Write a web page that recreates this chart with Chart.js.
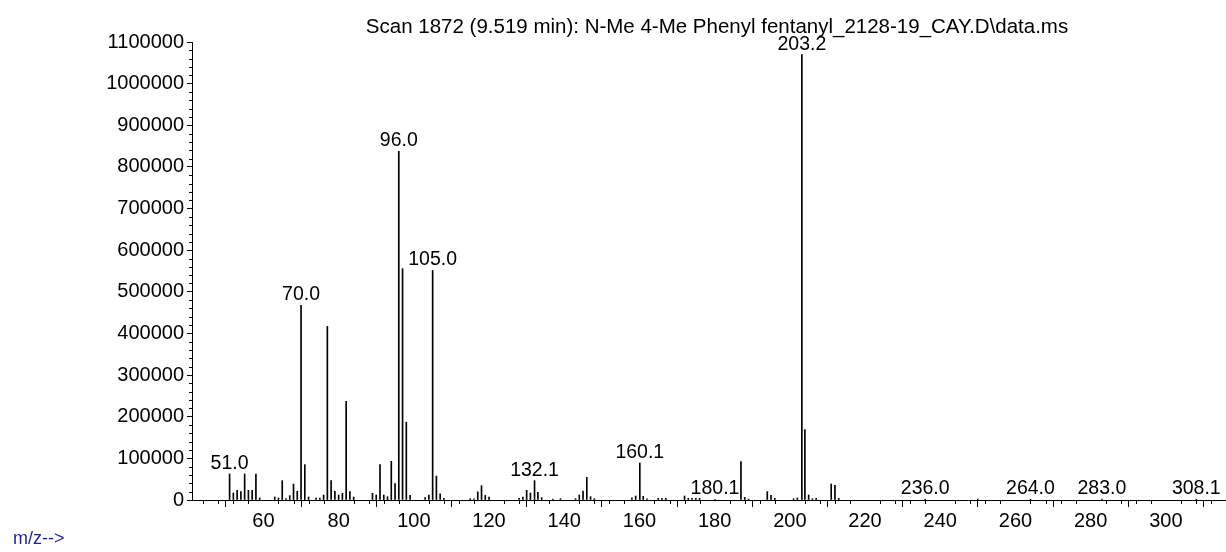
<!DOCTYPE html>
<html>
<head>
<meta charset="utf-8">
<title>Scan 1872</title>
<script src="https://cdn.jsdelivr.net/npm/chart.js@4/dist/chart.umd.min.js"></script>
<style>
  html, body { margin: 0; padding: 0; background: #fff; }
  #wrap { position: relative; width: 1226px; height: 552px; }
  #mz { position: absolute; left: 13px; top: 528px; color: #1f1f9f;
        font: 18px "Liberation Sans", Arial, sans-serif; }
</style>
</head>
<body>
<div id="wrap">
  <canvas id="spectrum" width="1226" height="552"></canvas>
  <div id="mz">m/z--&gt;</div>
</div>
<script>
// spectrum: m/z and abundance
const mzValues = [
  51.0, 52, 53, 54, 55, 56, 57, 58, 59, 63, 64, 65, 66, 67, 68, 69, 70.0, 71, 72, 74, 75, 76, 77, 78, 79, 80,
  81, 82, 83, 84, 89, 90, 91, 92, 93, 94, 95, 96.0, 97, 98, 99, 103, 104, 105.0, 106, 107, 108,
  115, 116, 117, 118, 119, 120, 128, 129, 130, 131, 132.1, 133, 134, 137, 139, 143, 144, 145, 146, 147, 148,
  158, 159, 160.1, 161, 162, 165, 166, 167, 172, 173, 174, 175, 176, 180.1, 187, 188, 189, 194, 195, 196,
  201, 202, 203.2, 204, 205, 206, 207, 211, 212, 213, 236.0, 250, 264.0, 283.0, 308.1
];
const abundance = [
  62500, 16800, 23200, 20000, 62500, 23200, 23200, 62500, 4800, 7200, 4800, 46400, 3200, 10400, 38400, 20800, 467400, 84900, 7200, 4800, 4800, 12000, 417000, 46400, 20800, 12000,
  16000, 236800, 20000, 7200, 16000, 12000, 84900, 12000, 8000, 92900, 39200, 837400, 555600, 187000, 11200, 6000, 12000, 551500, 57500, 15000, 4000,
  3000, 3000, 19500, 34400, 11000, 7000, 4000, 7200, 23200, 16800, 46400, 18400, 5600, 2400, 3200, 3200, 12000, 21600, 54400, 8000, 3200,
  5000, 9600, 88900, 8800, 3000, 4000, 4000, 4000, 9600, 4000, 4000, 4000, 4000, 1500, 92100, 6400, 2400, 20000, 11200, 4000,
  3200, 4800, 1069600, 169000, 12000, 3200, 4000, 38400, 35200, 4000, 2000, 2000, 2000, 2000, 2000
];
// peaks that carry an m/z label
const labelledPeaks = [51.0, 70.0, 96.0, 105.0, 132.1, 160.1, 180.1, 203.2, 236.0, 264.0, 283.0, 308.1];

const xTickValues = [60, 80, 100, 120, 140, 160, 180, 200, 220, 240, 260, 280, 300];
const yTickValues = [0, 100000, 200000, 300000, 400000, 500000, 600000, 700000, 800000, 900000, 1000000, 1100000];
const xMinorStep = 4;
const yMinorStep = 20000;

const chartTitle = 'Scan 1872 (9.519 min): N-Me 4-Me Phenyl fentanyl_2128-19_CAY.D\\data.ms';
const fontFamily = '"Liberation Sans", Arial, sans-serif';

// small ticks between the numbered ones
const minorTicks = {
  id: 'minorTicks',
  afterDraw(chart) {
    const ctx = chart.ctx;
    const x = chart.scales.x, y = chart.scales.y;
    ctx.save();
    ctx.strokeStyle = '#000';
    ctx.lineWidth = 1;
    ctx.beginPath();
    for (let v = Math.ceil(x.min / xMinorStep) * xMinorStep; v <= x.max; v += xMinorStep) {
      if (v % 20 === 0) continue;
      const px = Math.round(x.getPixelForValue(v)) + 0.5;
      ctx.moveTo(px, x.top);
      ctx.lineTo(px, x.top + 4);
    }
    for (let v = 0; v <= y.max; v += yMinorStep) {
      if (v % 100000 === 0) continue;
      const py = Math.round(y.getPixelForValue(v)) + 0.5;
      ctx.moveTo(y.right, py);
      ctx.lineTo(y.right - 3, py);
    }
    ctx.stroke();
    ctx.restore();
  }
};

// title and m/z text above the labelled peaks
const peakLabels = {
  id: 'peakLabels',
  afterDatasetsDraw(chart) {
    const ctx = chart.ctx;
    const x = chart.scales.x, y = chart.scales.y;
    const area = chart.chartArea;
    ctx.save();
    ctx.fillStyle = '#000';
    ctx.textAlign = 'center';
    ctx.textBaseline = 'alphabetic';
    ctx.font = '20.5px ' + fontFamily;
    ctx.fillText(chartTitle, (area.left + area.right) / 2 + 8, 33);
    ctx.font = '19.5px ' + fontFamily;
    labelledPeaks.forEach(mz => {
      const i = mzValues.indexOf(mz);
      if (i < 0) return;
      ctx.fillText(mz.toFixed(1), x.getPixelForValue(mz), y.getPixelForValue(abundance[i]) - 5);
    });
    ctx.restore();
  }
};

const ctx = document.getElementById('spectrum').getContext('2d');
const spectrumChart = new Chart(ctx, {
  type: 'bar',
  data: {
    datasets: [{
      data: mzValues.map((mz, i) => ({ x: mz, y: abundance[i] })),
      backgroundColor: '#000',
      borderWidth: 0,
      barThickness: 1
    }]
  },
  options: {
    responsive: false,
    animation: false,
    devicePixelRatio: 1,
    layout: { padding: { left: 0, right: 0, top: 42, bottom: 0 } },
    plugins: {
      legend: { display: false },
      tooltip: { enabled: false },
      title: { display: false }
    },
    scales: {
      x: {
        type: 'linear',
        min: 41,
        max: 316,
        offset: false,
        afterBuildTicks: s => { s.ticks = xTickValues.map(v => ({ value: v })); },
        afterFit: s => { s.height = 52; },
        ticks: {
          autoSkip: false,
          maxRotation: 0,
          padding: 2,
          color: '#000',
          font: { family: fontFamily, size: 20 }
        },
        grid: { drawOnChartArea: false, drawTicks: true, tickLength: 7, tickColor: '#000' },
        border: { display: true, color: '#000', width: 1 }
      },
      y: {
        min: 0,
        max: 1100000,
        afterBuildTicks: s => { s.ticks = yTickValues.map(v => ({ value: v })); },
        afterFit: s => { s.width = 192; },
        ticks: {
          padding: 3,
          color: '#000',
          font: { family: fontFamily, size: 20 },
          callback: v => String(v)
        },
        grid: { drawOnChartArea: false, drawTicks: true, tickLength: 5, tickColor: '#000' },
        border: { display: true, color: '#000', width: 1 }
      }
    }
  },
  plugins: [minorTicks, peakLabels]
});
</script>
</body>
</html>
